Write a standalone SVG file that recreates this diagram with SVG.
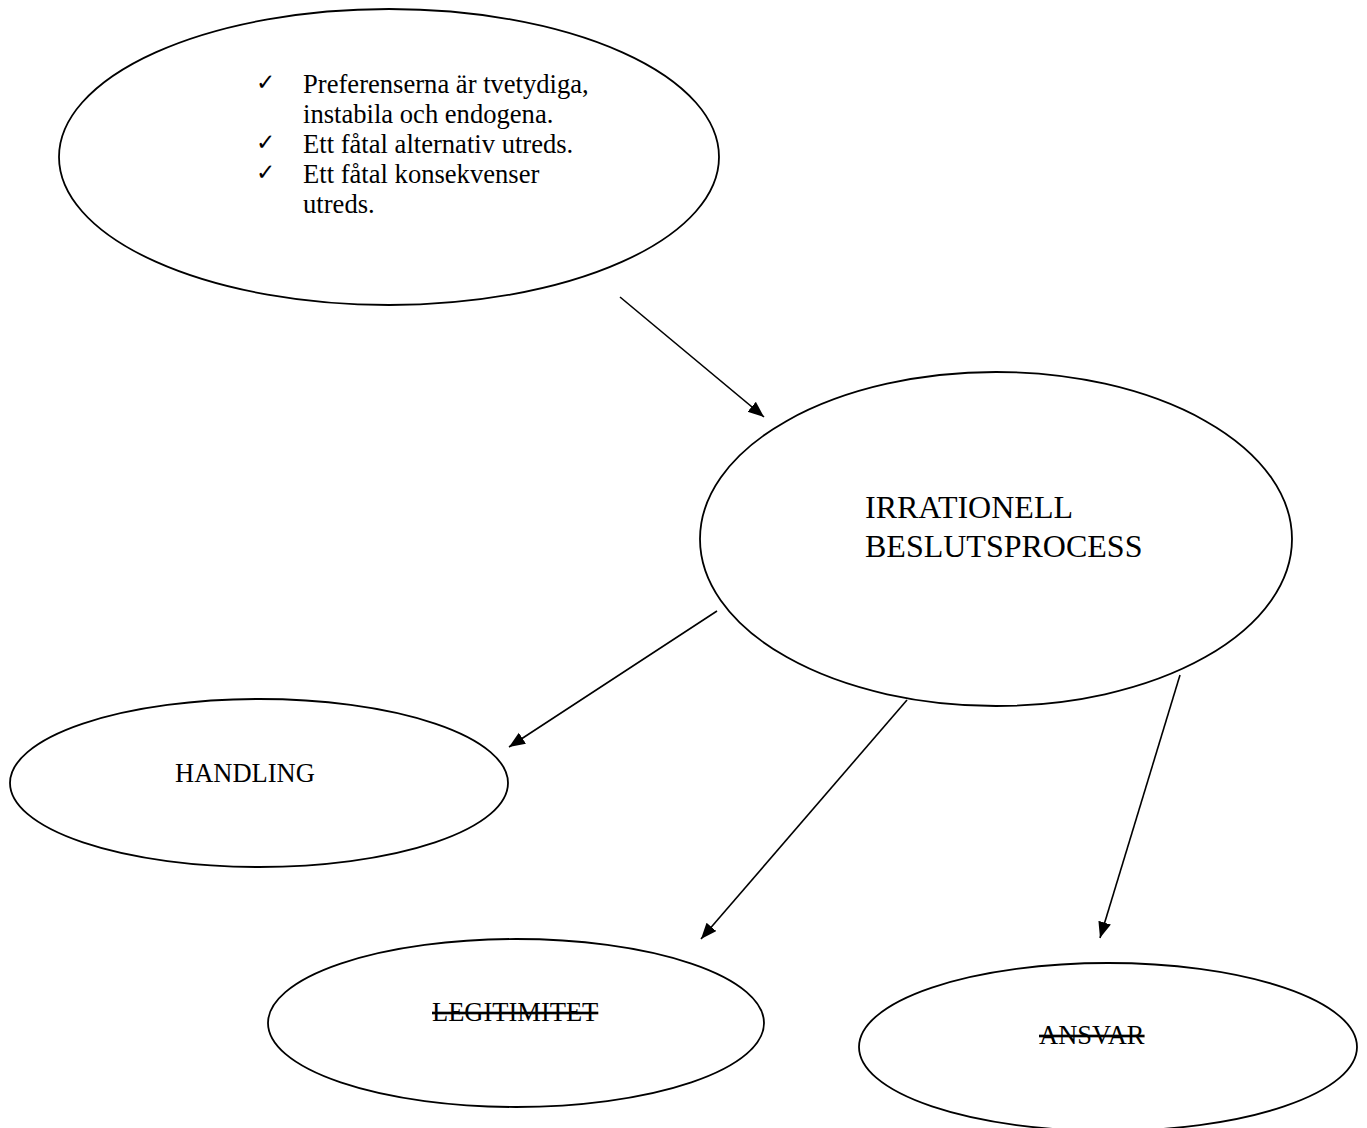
<svg xmlns="http://www.w3.org/2000/svg" width="1367" height="1128" viewBox="0 0 1367 1128">
<style>
.node{fill:#fff;stroke:#000;stroke-width:1.8}
.t{font-family:"Liberation Serif","Times New Roman",serif;fill:#000}
.ck{font-family:"DejaVu Sans","Liberation Serif",serif;fill:#000;font-size:23px}
.edge{stroke:#000;stroke-width:1.6;fill:none}
.strike{text-decoration:line-through}
</style>
<defs>
<marker id="arr" markerUnits="userSpaceOnUse" markerWidth="18" markerHeight="14" refX="16" refY="6.5" orient="auto">
<path d="M0,0 L16,6.5 L0,13 z" fill="#000"/>
</marker>
</defs>
<rect width="1367" height="1128" fill="#fff"/>
<g id="node-preferenser">
<ellipse class="node" cx="389" cy="157" rx="330" ry="148"/>
<text class="ck" x="256" y="90">✓</text>
<text class="ck" x="256" y="150">✓</text>
<text class="ck" x="256" y="180">✓</text>
<g transform="scale(0.95,1)">
<text class="t" font-size="28" x="319" y="93">Preferenserna är tvetydiga,</text>
<text class="t" font-size="28" x="319" y="123">instabila och endogena.</text>
<text class="t" font-size="28" x="319" y="153">Ett fåtal alternativ utreds.</text>
<text class="t" font-size="28" x="319" y="183">Ett fåtal konsekvenser</text>
<text class="t" font-size="28" x="319" y="213">utreds.</text>
</g>
</g>
<g id="node-irrationell">
<ellipse class="node" cx="996" cy="539" rx="296" ry="167"/>
<text class="t" font-size="32" x="865" y="518">IRRATIONELL</text>
<text class="t" font-size="32" x="865" y="557">BESLUTSPROCESS</text>
</g>
<g id="node-handling">
<ellipse class="node" cx="259" cy="783" rx="249" ry="84"/>
<text class="t" font-size="26.5" x="175" y="782">HANDLING</text>
</g>
<g id="node-legitimitet">
<ellipse class="node" cx="516" cy="1023" rx="248" ry="84"/>
<text class="t strike" font-size="26.5" x="432" y="1021">LEGITIMITET</text>
</g>
<g id="node-ansvar">
<ellipse class="node" cx="1108" cy="1047" rx="249" ry="84"/>
<text class="t strike" font-size="26.5" x="1039" y="1044">ANSVAR</text>
</g>
<g id="connectors">
<line class="edge" x1="620" y1="297" x2="764" y2="417" marker-end="url(#arr)"/>
<line class="edge" x1="717" y1="611" x2="509" y2="747" marker-end="url(#arr)"/>
<line class="edge" x1="907" y1="700" x2="701" y2="939" marker-end="url(#arr)"/>
<line class="edge" x1="1180" y1="675" x2="1100" y2="938" marker-end="url(#arr)"/>
</g>
</svg>
